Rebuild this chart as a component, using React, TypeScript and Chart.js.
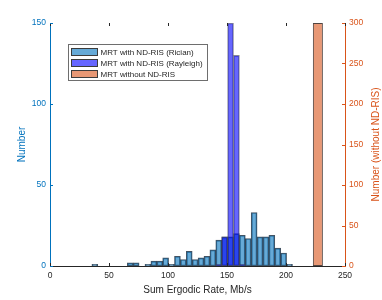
import React, { useEffect, useRef } from "react";
import { Chart, registerables } from "chart.js";

Chart.register(...registerables);

// ---- data (bin centres in Mb/s, counts) ----
const ricianCenters = [38, 68, 73, 83, 88, 93, 98, 103, 108, 113, 118, 123, 128, 133, 138, 143, 148, 153, 158, 163, 168, 173, 178, 183, 188, 193, 198, 203];
const ricianCounts = [1, 2, 2, 1, 3, 3, 5, 1, 6, 4, 9, 4, 5, 6, 10, 16, 18, 18, 20, 19, 17, 33, 18, 18, 19, 11, 8, 1];
const rayleighCenters = [143, 148, 153, 158, 163];
const rayleighCounts = [1, 18, 150, 130, 1];
const noRisCenters = [227];
const noRisCounts = [300];

const seriesLabels = ["MRT with ND-RIS (Rician)", "MRT with ND-RIS (Rayleigh)", "MRT without ND-RIS"];
const xTitle = "Sum Ergodic Rate, Mb/s";
const yTitle = "Number";
const y2Title = "Number (without ND-RIS)";

// ---- styles ----
const FONT = "'Liberation Sans', Arial, Helvetica, sans-serif";
const BLUE_AX = "rgb(0,114,189)";
const ORANGE_AX = "rgb(217,83,25)";
const DARK = "rgb(38,38,38)";
const RICIAN_FILL = "rgba(0,114,189,0.6)";
const RAYLEIGH_FILL = "rgba(0,0,255,0.6)";
const NORIS_FILL = "rgba(217,83,25,0.6)";
const RICIAN_EDGE = "rgba(20,40,60,0.8)";
const RAYLEIGH_EDGE = "rgba(70,70,90,0.65)";
const NORIS_EDGE = "rgba(50,35,30,0.85)";

const toPts = (xs: number[], ys: number[]) => xs.map((x, i) => ({ x, y: ys[i] }));

const tickPlugin = {
  id: "inwardTicks",
  afterDatasetsDraw(chart: any) {
    const { ctx, chartArea: a, scales } = chart;
    const L = 3;
    ctx.save();
    ctx.lineWidth = 1;
    const x = scales.x;
    ctx.strokeStyle = DARK;
    x.ticks.forEach((t: any) => {
      const px = Math.round(x.getPixelForValue(t.value)) + 0.5;
      ctx.beginPath();
      ctx.moveTo(px, a.bottom);
      ctx.lineTo(px, a.bottom - L);
      ctx.moveTo(px, a.top);
      ctx.lineTo(px, a.top + L);
      ctx.stroke();
    });
    const y = scales.y;
    ctx.strokeStyle = BLUE_AX;
    y.ticks.forEach((t: any) => {
      const py = Math.round(y.getPixelForValue(t.value)) + 0.5;
      ctx.beginPath();
      ctx.moveTo(a.left, py);
      ctx.lineTo(a.left + L, py);
      ctx.stroke();
    });
    const y2 = scales.y2;
    ctx.strokeStyle = ORANGE_AX;
    y2.ticks.forEach((t: any) => {
      const py = Math.round(y2.getPixelForValue(t.value)) + 0.5;
      ctx.beginPath();
      ctx.moveTo(a.right, py);
      ctx.lineTo(a.right - L, py);
      ctx.stroke();
    });
    ctx.restore();
  },
};

const extrasPlugin = {
  id: "extras",
  afterDraw(chart: any) {
    const { ctx, chartArea: a, data } = chart;
    ctx.save();
    // right axis title, rotated -90 like MATLAB
    ctx.fillStyle = ORANGE_AX;
    ctx.font = `10px ${FONT}`;
    ctx.textAlign = "center";
    ctx.textBaseline = "middle";
    ctx.translate(376.5, (a.top + a.bottom) / 2);
    ctx.rotate(-Math.PI / 2);
    ctx.fillText(y2Title, 0, 0);
    ctx.restore();

    // legend box
    ctx.save();
    const bx = a.left + 18.5;
    const by = a.top + 21.5;
    const bw = 139;
    const bh = 36;
    ctx.fillStyle = "#ffffff";
    ctx.fillRect(bx, by, bw, bh);
    ctx.strokeStyle = "rgb(110,110,110)";
    ctx.lineWidth = 1;
    ctx.strokeRect(bx, by, bw, bh);
    ctx.font = `8px ${FONT}`;
    ctx.textAlign = "left";
    ctx.textBaseline = "middle";
    data.datasets.forEach((ds: any, i: number) => {
      const cy = by + 7.5 + i * 11;
      ctx.fillStyle = "#ffffff";
      ctx.fillRect(bx + 3, cy - 3.5, 26, 7);
      ctx.fillStyle = ds.backgroundColor;
      ctx.fillRect(bx + 3, cy - 3.5, 26, 7);
      ctx.strokeStyle = "rgb(60,60,60)";
      ctx.strokeRect(bx + 3, cy - 3.5, 26, 7);
      ctx.fillStyle = DARK;
      ctx.fillText(ds.label, bx + 32, cy + 0.5);
    });
    ctx.restore();
  },
};

export default function App() {
  const ref = useRef<HTMLCanvasElement | null>(null);

  useEffect(() => {
    if (!ref.current) return;
    const chart = new Chart(ref.current, {
      type: "bar",
      data: {
        datasets: [
          {
            label: seriesLabels[0],
            data: toPts(ricianCenters, ricianCounts) as any,
            backgroundColor: RICIAN_FILL,
            borderColor: RICIAN_EDGE,
            borderWidth: 1,
            borderSkipped: false,
            grouped: false,
            categoryPercentage: 1,
            barPercentage: 1,
            yAxisID: "y",
            order: 2,
          },
          {
            label: seriesLabels[1],
            data: toPts(rayleighCenters, rayleighCounts) as any,
            backgroundColor: RAYLEIGH_FILL,
            borderColor: RAYLEIGH_EDGE,
            borderWidth: 1,
            borderSkipped: false,
            grouped: false,
            categoryPercentage: 1,
            barPercentage: 1,
            yAxisID: "y",
            order: 1,
          },
          {
            label: seriesLabels[2],
            data: toPts(noRisCenters, noRisCounts) as any,
            backgroundColor: NORIS_FILL,
            borderColor: NORIS_EDGE,
            borderWidth: 1,
            borderSkipped: false,
            grouped: false,
            categoryPercentage: 1,
            barPercentage: 1.7,
            yAxisID: "y2",
            order: 3,
          },
        ] as any,
      },
      options: {
        animation: false,
        responsive: true,
        maintainAspectRatio: false,
        layout: { padding: { top: 23, left: 0, right: 0, bottom: 0 } },
        plugins: { legend: { display: false }, tooltip: { enabled: false }, title: { display: false } },
        scales: {
          x: {
            type: "linear",
            min: 0,
            max: 250,
            offset: false,
            grid: { display: false, drawTicks: false, offset: false },
            border: { display: true, color: DARK, width: 1 },
            ticks: { stepSize: 50, color: DARK, padding: 5, font: { family: FONT, size: 8.5 }, maxRotation: 0 },
            title: { display: true, text: xTitle, color: DARK, font: { family: FONT, size: 10 }, padding: { top: 0, bottom: 4 } },
            afterFit: (s: any) => { s.height = 34; },
          },
          y: {
            type: "linear",
            position: "left",
            min: 0,
            max: 150,
            grid: { display: false, drawTicks: false },
            border: { display: true, color: BLUE_AX, width: 1 },
            ticks: { stepSize: 50, color: BLUE_AX, padding: 4, font: { family: FONT, size: 8.5 } },
            title: { display: true, text: yTitle, color: BLUE_AX, font: { family: FONT, size: 10 }, padding: { top: 16, bottom: 0 } },
            afterFit: (s: any) => { s.width = 50; },
          },
          y2: {
            type: "linear",
            position: "right",
            min: 0,
            max: 300,
            grid: { display: false, drawTicks: false },
            border: { display: true, color: ORANGE_AX, width: 1 },
            ticks: { stepSize: 50, color: ORANGE_AX, padding: 4, font: { family: FONT, size: 8.5 } },
            title: { display: false },
            afterFit: (s: any) => { s.width = 37; },
          },
        },
      } as any,
      plugins: [tickPlugin, extrasPlugin],
    });
    return () => chart.destroy();
  }, []);

  return (
    <div style={{ position: "absolute", left: 0, top: 0, width: 382, height: 300, background: "#fff" }}>
      <canvas ref={ref} />
    </div>
  );
}
